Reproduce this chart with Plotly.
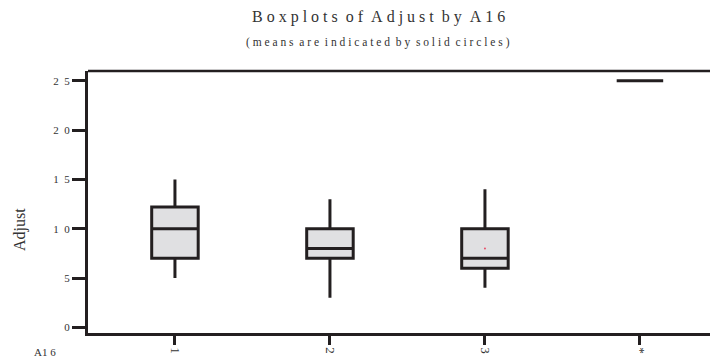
import plotly.graph_objects as go

# Data
groups = [1, 2, 3, 4]
group_labels = ["1", "2", "3", "*"]
q1 = [7, 7, 6, 25]
median = [10, 8, 7, 25]
q3 = [12.2, 10, 10, 25]
lower = [5, 3, 4, 25]
upper = [15, 13, 14, 25]
means = [10, 8, 8, 25]
ytick_vals = [0, 5, 10, 15, 20, 25]
ytick_text = ["0", "5", "1\u00a0\u00a00", "1\u00a0\u00a05", "2\u00a0\u00a00", "2\u00a0\u00a05"]

FONT = "Liberation Serif, Times New Roman, serif"
DARK = "#231f20"
NB = "\u00a0"

def spaced(s, gap=1):
    words = s.split(" ")
    return (NB * (gap + 1)).join((NB * gap).join(list(w)) for w in words)

fig = go.Figure()
fig.add_trace(go.Box(
    x=groups, q1=q1, median=median, q3=q3,
    lowerfence=lower, upperfence=upper,
    width=0.3, whiskerwidth=0,
    fillcolor="#e0e0e2", line=dict(color=DARK, width=3),
    boxpoints=False, showlegend=False, hoverinfo="skip",
))
fig.add_trace(go.Scatter(
    x=groups[2:3], y=means[2:3], mode="markers",
    marker=dict(color="#e8506a", size=2), showlegend=False, hoverinfo="skip",
))

L, R, T, B = 88, 0, 71, 27
fig.update_layout(
    width=710, height=360,
    margin=dict(l=L, r=R, t=T, b=B),
    paper_bgcolor="white", plot_bgcolor="white",
    font=dict(family=FONT, color="#333333", size=11),
    xaxis=dict(
        range=[0.439, 4.452], tickvals=groups, ticktext=group_labels,
        tickangle=90, ticks="outside", ticklen=9, tickwidth=3, tickcolor=DARK,
        showline=True, linewidth=2.5, linecolor=DARK, showgrid=False,
        zeroline=False, tickfont=dict(family=FONT, size=13, color="#333"),
    ),
    yaxis=dict(
        range=[-0.58, 26.0], tickvals=ytick_vals, ticktext=ytick_text,
        ticks="outside", ticklen=13, tickwidth=3, tickcolor=DARK,
        showline=True, linewidth=3, linecolor=DARK, showgrid=False,
        zeroline=False, tickfont=dict(family=FONT, size=11, color="#333"),
    ),
    shapes=[dict(type="line", xref="paper", yref="paper", x0=0, x1=1.05, y0=1, y1=1,
                 line=dict(color=DARK, width=2.5))],
    annotations=[
        dict(text=spaced("Boxplots of Adjust by A16"),
             xref="paper", yref="paper", x=(378 - L) / 622, y=1 + (71 - 17) / 262,
             showarrow=False, xanchor="center", yanchor="middle",
             font=dict(family=FONT, size=16, color="#333")),
        dict(text=spaced("(means are indicated by solid circles)"),
             xref="paper", yref="paper", x=(378 - L) / 622, y=1 + (71 - 42) / 262,
             showarrow=False, xanchor="center", yanchor="middle",
             font=dict(family=FONT, size=11.5, color="#333")),
        dict(text="Adjust", xref="paper", yref="paper", x=(20 - L) / 622, y=(333 - 230) / 262,
             showarrow=False, textangle=-90, xanchor="center", yanchor="middle",
             font=dict(family=FONT, size=16, color="#333")),
        dict(text="A1" + NB + "6", xref="paper", yref="paper", x=(45 - L) / 622, y=(333 - 352) / 262,
             showarrow=False, xanchor="center", yanchor="middle",
             font=dict(family=FONT, size=11, color="#333")),
    ],
)

fig.write_html("out.html")
